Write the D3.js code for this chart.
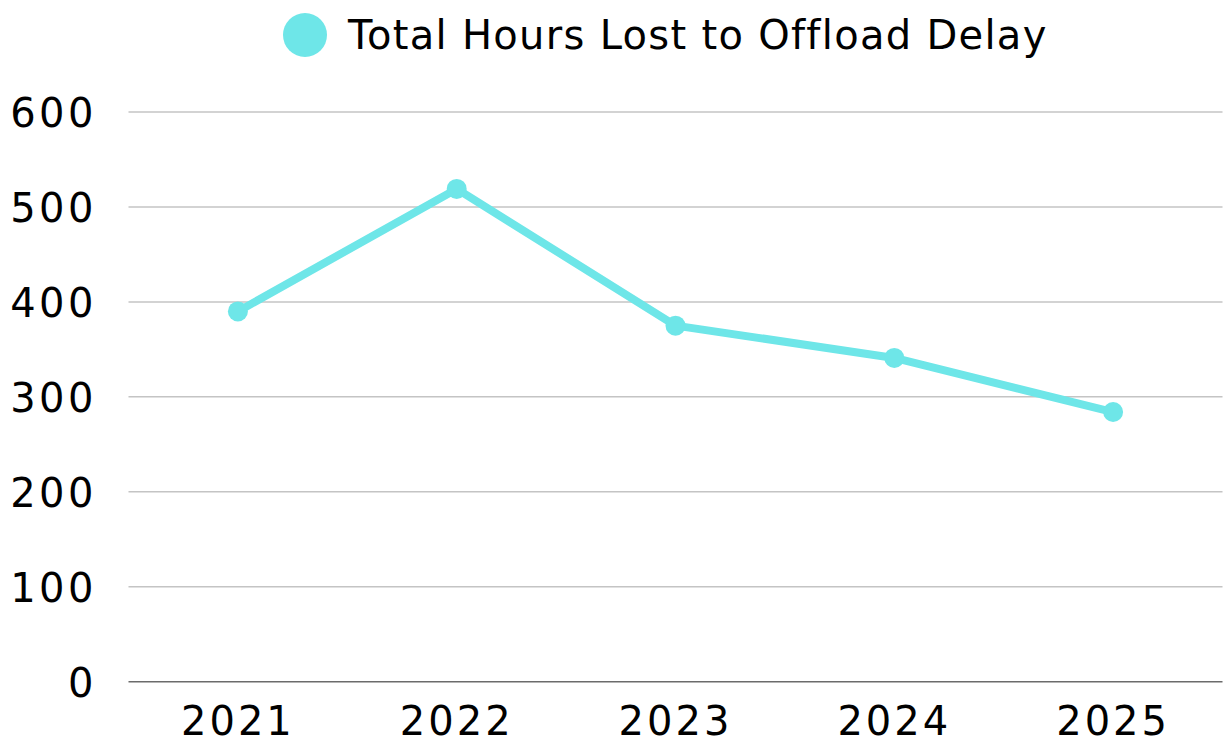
<!DOCTYPE html>
<html>
<head>
<meta charset="utf-8">
<script src="https://cdn.jsdelivr.net/npm/d3@7"></script>
<style>
  html, body { margin: 0; padding: 0; background: #fff; }
  svg { display: block; }
  text { font-family: "DejaVu Sans", sans-serif; fill: #000; }
</style>
</head>
<body>
<svg id="chart" width="1228" height="738"></svg>
<script>
const years = ["2021", "2022", "2023", "2024", "2025"];
const hoursLost = [390, 519, 375, 341, 284];
const yTicks = [0, 100, 200, 300, 400, 500, 600];
const seriesName = "Total Hours Lost to Offload Delay";
const lineColor = "#6ee6e8";

const W = 1228, H = 738;
const margin = { left: 128.5, right: 5.5, top: 112, bottom: 56.3 };
const svg = d3.select("#chart");

const x = d3.scaleBand().domain(years).range([margin.left, W - margin.right]);
const y = d3.scaleLinear().domain([0, 600]).range([H - margin.bottom, margin.top]);

// gridlines
svg.append("g")
  .selectAll("line")
  .data(yTicks.filter(d => d !== 0))
  .join("line")
  .attr("x1", margin.left).attr("x2", W - margin.right)
  .attr("y1", d => y(d)).attr("y2", d => y(d))
  .attr("stroke", "#c4c4c4").attr("stroke-width", 1.5);

// zero axis line
svg.append("line")
  .attr("x1", margin.left).attr("x2", W - margin.right)
  .attr("y1", y(0)).attr("y2", y(0))
  .attr("stroke", "#6b6b6b").attr("stroke-width", 1.5);

// y tick labels
const yAxis = d3.axisLeft(y).tickValues(yTicks).tickSize(0).tickPadding(0).tickFormat(d3.format("d"));
const gy = svg.append("g").attr("transform", "translate(97,0)").call(yAxis);
gy.select(".domain").remove();
gy.selectAll("text")
  .attr("font-size", 40)
  .attr("letter-spacing", 3.5)
  .attr("dy", "0.36em")
  .style("font-family", '"DejaVu Sans", sans-serif')
  .attr("fill", "#000");

// x tick labels
const xAxis = d3.axisBottom(x).tickSize(0).tickPadding(0);
const gx = svg.append("g").attr("transform", `translate(0,${y(0)})`).call(xAxis);
gx.select(".domain").remove();
gx.selectAll("text")
  .attr("font-size", 40)
  .attr("letter-spacing", 3)
  .attr("dy", null)
  .attr("y", 53)
  .style("font-family", '"DejaVu Sans", sans-serif')
  .attr("fill", "#000");

// line
const line = d3.line()
  .x((d, i) => x(years[i]) + x.bandwidth() / 2)
  .y(d => y(d));
svg.append("path")
  .datum(hoursLost)
  .attr("d", line)
  .attr("fill", "none")
  .attr("stroke", lineColor)
  .attr("stroke-width", 8)
  .attr("stroke-linejoin", "round");

svg.append("g")
  .selectAll("circle")
  .data(hoursLost)
  .join("circle")
  .attr("cx", (d, i) => x(years[i]) + x.bandwidth() / 2)
  .attr("cy", d => y(d))
  .attr("r", 10)
  .attr("fill", lineColor);

// legend
const leg = svg.append("g");
leg.append("circle").attr("cx", 305).attr("cy", 35).attr("r", 22).attr("fill", lineColor);
leg.append("text")
  .attr("x", 348).attr("y", 49)
  .attr("font-size", 40)
  .attr("letter-spacing", 1.3)
  .text(seriesName);
</script>
</body>
</html>
